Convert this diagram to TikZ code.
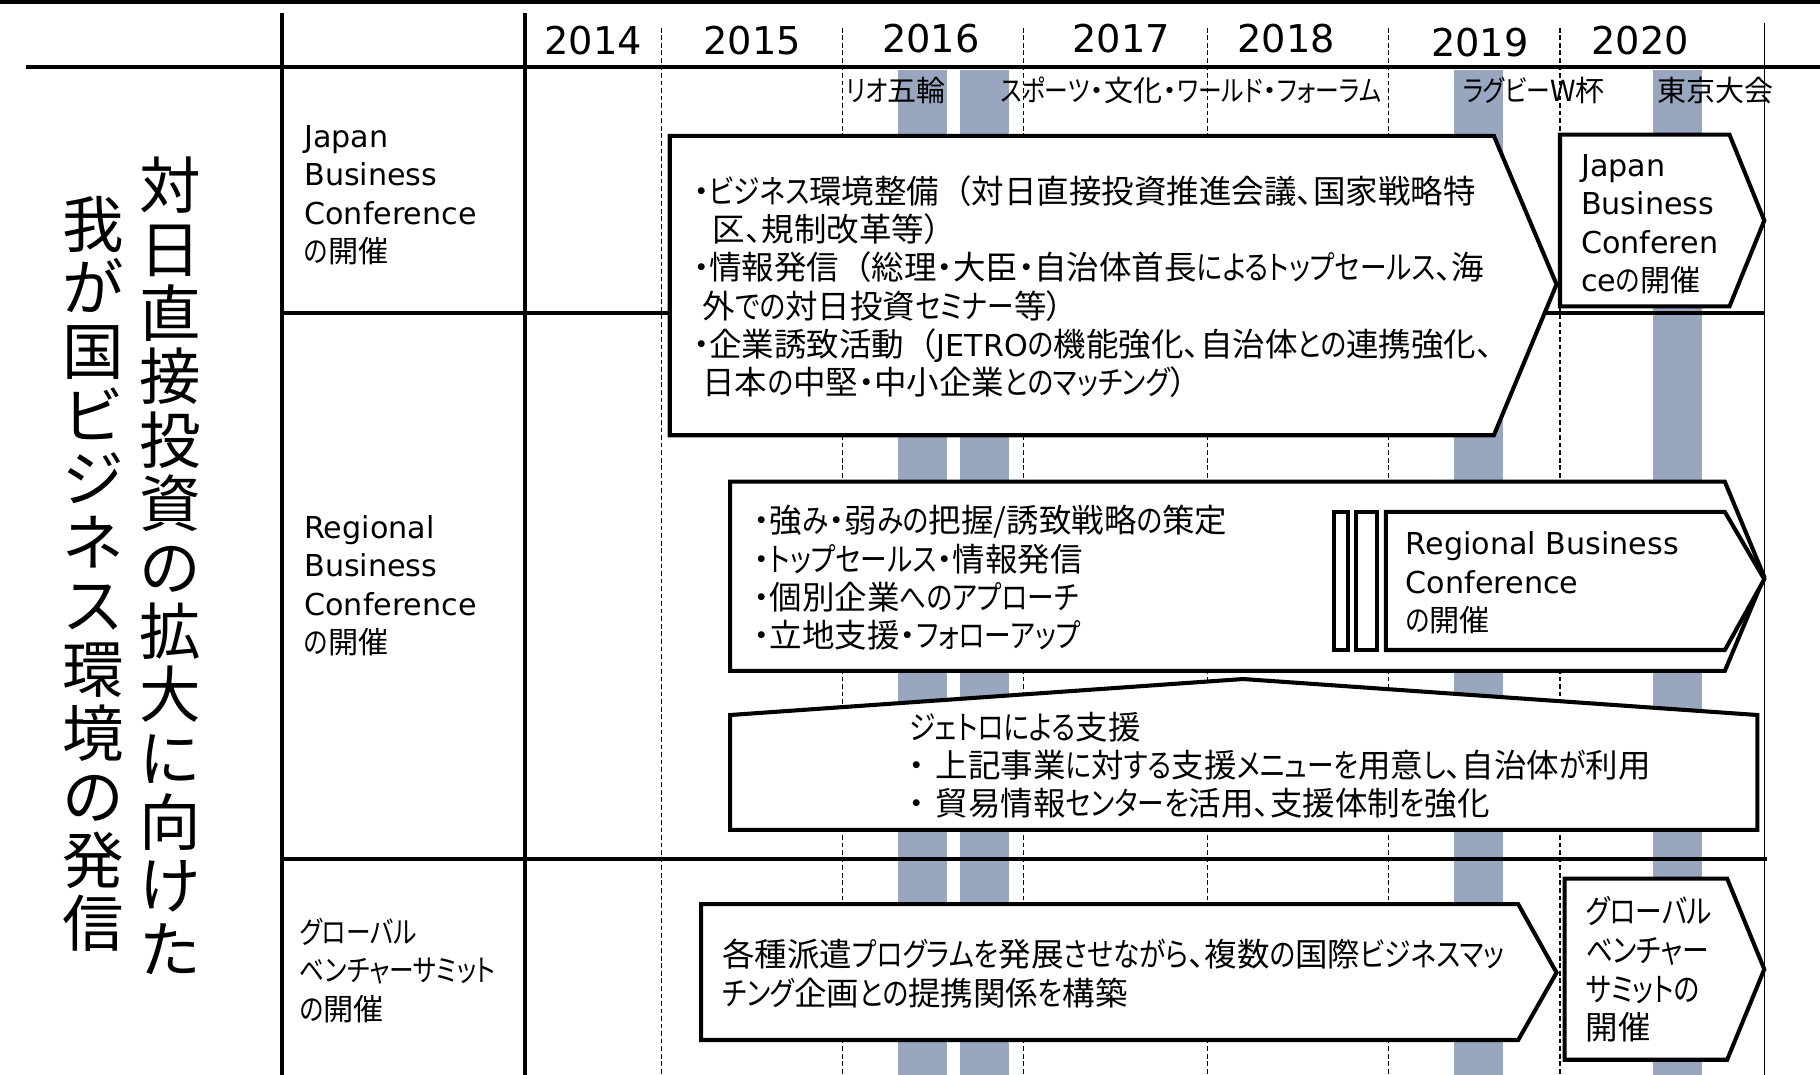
\documentclass[tikz,border=0pt]{standalone}
\usepackage{fontspec}
\setmainfont{Noto Sans CJK JP}[RawFeature=+palt]
\newfontfamily\latfont{DejaVu Sans}
\newfontfamily\jpfull{Noto Sans CJK JP}
\newfontfamily\jpmainfont{Noto Sans CJK JP}[RawFeature=+palt]
\newfontfamily\kanafont{Noto Sans CJK JP}[RawFeature=+palt, FakeStretch=0.82]
\definecolor{barcol}{RGB}{152,166,192}
% narrower kana (proportional, like the reference)
\XeTeXinterchartokenstate=1
\newcommand{\nokana}{\XeTeXinterchartokenstate=0\relax}
\chardef\kanacls=77
\makeatletter
\count@="3041
\loop\ifnum\count@<"30FB \XeTeXcharclass\count@=\kanacls \advance\count@ by 1 \repeat
\XeTeXcharclass"30FC=\kanacls
\makeatother
\XeTeXinterchartoks 0 \kanacls = {\kanafont}
\XeTeXinterchartoks 1 \kanacls = {\kanafont}
\XeTeXinterchartoks 2 \kanacls = {\kanafont}
\XeTeXinterchartoks 3 \kanacls = {\kanafont}
\XeTeXinterchartoks 4095 \kanacls = {\kanafont}
\XeTeXinterchartoks \kanacls 0 = {\jpmainfont}
\XeTeXinterchartoks \kanacls 1 = {\jpmainfont}
\XeTeXinterchartoks \kanacls 2 = {\jpmainfont}
\XeTeXinterchartoks \kanacls 3 = {\jpmainfont}
\XeTeXinterchartoks \kanacls 4095 = {\jpmainfont}
\begin{document}
\begin{tikzpicture}[x=1pt,y=-1pt,
  txt/.style={anchor=base west, inner sep=0pt},
  boxline/.style={draw=black, line width=3.5pt, fill=white, line join=miter},
  gridline/.style={line width=3.5pt},
  dashv/.style={line width=1.1pt, dash pattern=on 4pt off 2.5pt},
  yr/.style={anchor=base, inner sep=0pt, font=\latfont\fontsize{33}{40}\selectfont},
  ann/.style={txt, font=\fontsize{25}{30}\selectfont},
  lbl/.style={txt, font=\fontsize{26}{33}\selectfont},
  big/.style={txt, font=\fontsize{28}{33}\selectfont},
  ttl/.style={anchor=base, inner sep=0pt, font={\nokana\jpfull\fontsize{53}{54.8}\selectfont}},
]
\useasboundingbox (0,0) rectangle (1568,926);
% highlighted years (bars)
\foreach \a in {774,827,1253,1424} \fill[barcol] (\a,60) rectangle ++(42,866);
% dashed year separators
\foreach \a in {570,726,882,1040,1196,1344} \draw[dashv] (\a,24) -- (\a,926);
% thin right line
\draw[line width=1.2pt] (1520,20) -- (1520,926);
% top border
\draw[line width=3.5pt] (0,1.75) -- (1568,1.75);
% grid
\draw[gridline] (22,58) -- (1568,58);
\draw[gridline] (243,11) -- (243,926);
\draw[gridline] (452,11) -- (452,926);
\draw[gridline] (243,270) -- (1520,270);
\draw[gridline] (243,740) -- (1522,740);

% years
\node[yr] (y2014) at (511,47) {2014};
\node[yr] (y2015) at (648,47) {2015};
\node[yr] (y2016) at (802,45) {2016};
\node[yr] (y2017) at (966,45) {2017};
\node[yr] (y2018) at (1108,45) {2018};
\node[yr] (y2019) at (1275,49) {2019};
\node[yr] (y2020) at (1413,47) {2020};

% events
\node[ann] (ev1) at (729,87.5) {リオ五輪};
\node[ann] (ev2) at (862,87.5) {スポーツ・文化・ワールド・フォーラム};
\node[ann] (ev3) at (1260,87.5) {ラグビーW杯};
\node[ann] (ev4) at (1428,87.5) {東京大会};

% title
\node[ttl] (title1) at (147,180) {\parbox[t]{60pt}{\centering 対\\日\\直\\接\\投\\資\\の\\拡\\大\\に\\向\\け\\た}};
\node[ttl] (title2) at (80,213) {\parbox[t]{60pt}{\centering 我\\が\\国\\ビ\\ジ\\ネ\\ス\\環\\境\\の\\発\\信}};

% row labels
\node[lbl] (lab1) at (262,127) {\parbox[t]{200pt}{{\latfont Japan\\Business\\Conference}\\の開催}};
\node[lbl] (lab2) at (262,464) {\parbox[t]{200pt}{{\latfont Regional\\Business\\Conference}\\の開催}};
\node[lbl] (lab3) at (258,813) {\parbox[t]{200pt}{グローバル\\ベンチャーサミット\\の開催}};

% boxes
\draw[boxline] (577,117) -- (1287,117) -- (1341,245) -- (1287,375) -- (577,375) -- cycle;
\draw[boxline] (1344,116) -- (1490,116) -- (1520,190) -- (1490,264) -- (1344,264) -- cycle;
\draw[boxline] (629,415) -- (1486,415) -- (1520,497) -- (1486,578) -- (629,578) -- cycle;
\draw[boxline] (1149,441) rectangle (1161,560);
\draw[boxline] (1168,441) rectangle (1186,560);
\draw[boxline] (1194,441) -- (1486,441) -- (1520,499) -- (1486,560) -- (1194,560) -- cycle;
\draw[boxline] (1071,585) -- (1514,616) -- (1514,715) -- (629,715) -- (629,616) -- cycle;
\draw[boxline] (604,779) -- (1308,779) -- (1341,838) -- (1308,896) -- (604,896) -- cycle;
\draw[boxline] (1348,757) -- (1488,757) -- (1520,835) -- (1488,913) -- (1348,913) -- cycle;

% box texts
\node[big] (t1) at (597,175) {\parbox[t]{800pt}{・ビジネス環境整備{\jpfull （}対日直接投資推進会議、国家戦略特\\\hspace*{17pt}区、規制改革等）\\・情報発信{\jpfull （}総理・大臣・自治体首長によるトップセールス、海\\\hspace*{8pt}外での対日投資セミナー等）\\・企業誘致活動{\jpfull （}{\latfont\fontsize{26}{33}\selectfont JETRO}の機能強化、自治体との連携強化、\\\hspace*{8pt}日本の中堅・中小企業とのマッチング）}};
\node[lbl] (t2) at (1362,152) {\parbox[t]{200pt}{{\latfont Japan\\Business\\Conferen\\ce}の開催}};
\node[big] (t3) at (649,459) {\parbox[t]{600pt}{・強み・弱みの把握/誘致戦略の策定\\・トップセールス・情報発信\\・個別企業へのアプローチ\\・立地支援・フォローアップ}};
\node[lbl] (t3b) at (1211,478) {\parbox[t]{300pt}{{\latfont Regional Business\\Conference}\\の開催}};
\node[big] (t4) at (783,637) {\parbox[t]{800pt}{ジェトロによる支援\\\makebox[23pt][l]{・}上記事業に対する支援メニューを用意し、自治体が利用\\\makebox[23pt][l]{・}貿易情報センターを活用、支援体制を強化}};
\node[big] (t5) at (622,833) {\parbox[t]{800pt}{各種派遣プログラムを発展させながら、複数の国際ビジネスマッ\\チング企画との提携関係を構築}};
\node[txt, font=\fontsize{28}{33.3}\selectfont] (t6) at (1366,796) {\parbox[t]{200pt}{グローバル\\ベンチャー\\サミットの\\開催}};
\end{tikzpicture}
\end{document}
